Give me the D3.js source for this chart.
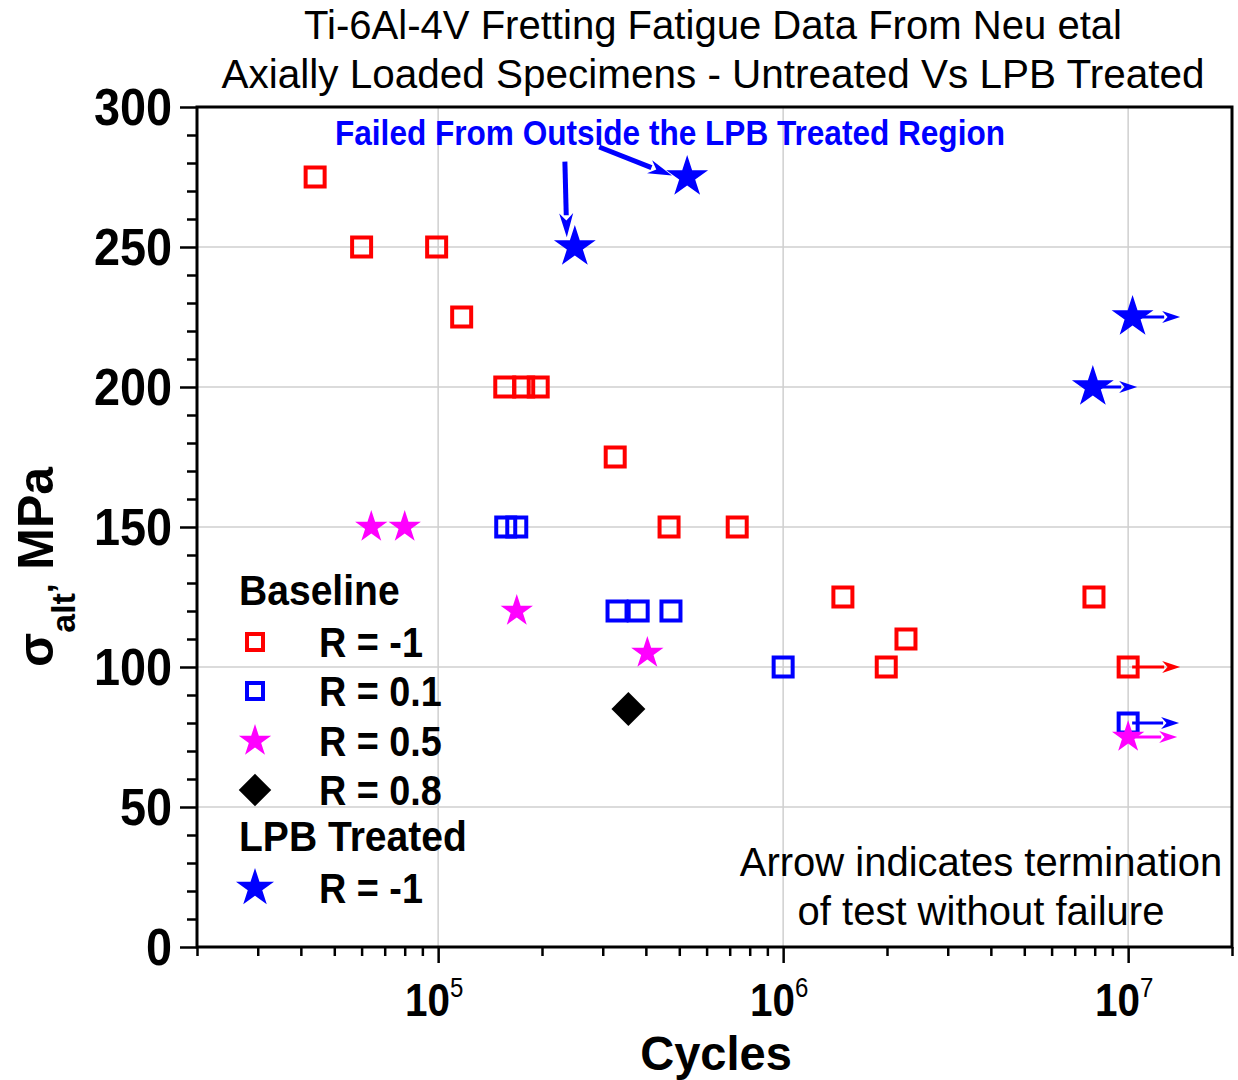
<!DOCTYPE html>
<html>
<head>
<meta charset="utf-8">
<script src="https://cdn.jsdelivr.net/npm/d3@7"></script>
<style>
  html, body { margin: 0; padding: 0; background: #fff; }
  svg { display: block; font-family: "Liberation Sans", Arial, sans-serif; }
</style>
</head>
<body>
<svg id="chart" width="1238" height="1080"></svg>
<script>
// ---------------- DATA ----------------
const titleLines = ["Ti-6Al-4V Fretting Fatigue Data From Neu etal",
                    "Axially Loaded Specimens - Untreated Vs LPB Treated"];
const xLabel = "Cycles";
const yTicksMajor = [0, 50, 100, 150, 200, 250, 300];
const xTicksMajor = [1e5, 1e6, 1e7];
const xTickExponents = ["5", "6", "7"];

// Baseline R = -1 (red open squares)
const r1Cycles = [44000, 60000, 99000, 117000, 156000, 177000, 195000, 326000, 467000, 736000, 1490000, 1990000, 2270000, 7960000, 10000000];
const r1Stress = [275, 250, 250, 225, 200, 200, 200, 175, 150, 150, 125, 100, 110, 125, 100];
// Baseline R = 0.1 (blue open squares)
const r01Cycles = [157000, 169000, 330000, 380000, 473000, 1000000, 10000000];
const r01Stress = [150, 150, 120, 120, 120, 100, 80];
// Baseline R = 0.5 (magenta stars)
const r05Cycles = [64000, 80000, 169000, 404000, 10000000];
const r05Stress = [150, 150, 120, 105, 75];
// Baseline R = 0.8 (black diamond)
const r08Cycles = [356000];
const r08Stress = [85];
// LPB treated R = -1 (blue stars)
const lpbCycles = [249000, 527000, 7900000, 10300000];
const lpbStress = [250, 275, 200, 225];

// Run-outs (arrow = test terminated without failure)
const runoutCycles = [10000000, 10000000, 10000000, 10300000, 7900000];
const runoutStress = [100, 80, 75, 225, 200];
const runoutTo     = [14150000, 14050000, 13870000, 14150000, 10620000];
const runoutColor  = ["#ff0000", "#0000ff", "#ff00ff", "#0000ff", "#0000ff"];

// Annotation arrows "Failed From Outside the LPB Treated Region"
const noteFromCycles = [233000, 293000];
const noteFromStress = [280.5, 285.7];
const noteToCycles   = [236000, 476000];
const noteToStress   = [253.5, 275.5];

const legendLabels = ["R = -1", "R = 0.1", "R = 0.5", "R = 0.8", "R = -1"];

// ---------------- LAYOUT ----------------
const svg = d3.select("#chart");
const L = 197, R = 1232, T = 107, B = 947;
const x = d3.scaleLog().domain([2e4, 2e7]).range([L, R]);
const y = d3.scaleLinear().domain([0, 300]).range([B, T]);

const RED = "#ff0000", BLUE = "#0000ff", MAG = "#ff00ff";

// gridlines
const grid = svg.append("g").attr("stroke", "#cfcfcf").attr("stroke-width", 1.5);
grid.selectAll("line.gx").data(xTicksMajor).join("line")
  .attr("x1", d => x(d)).attr("x2", d => x(d)).attr("y1", T).attr("y2", B);
grid.selectAll("line.gy").data(yTicksMajor.filter(d => d > 0 && d < 300)).join("line")
  .attr("x1", L).attr("x2", R).attr("y1", d => y(d)).attr("y2", d => y(d));

// axes ticks
const xMinor = [];
for (let e = 4; e <= 7; e++) for (let k = 1; k <= 9; k++) {
  const v = k * Math.pow(10, e);
  if (v >= 2e4 && v <= 2e7 && k !== 1) xMinor.push(v);
}
const yMinor = d3.range(0, 301, 10).filter(d => d % 50 !== 0);

function styleAxis(g) {
  g.select(".domain").remove();
  g.selectAll(".tick line").attr("stroke", "#000").attr("stroke-width", 2.5);
  g.selectAll(".tick text").remove();
}
svg.append("g").attr("transform", `translate(0,${B})`)
  .call(d3.axisBottom(x).tickValues(xMinor).tickSize(9).tickFormat("")).call(styleAxis);
svg.append("g").attr("transform", `translate(0,${B})`)
  .call(d3.axisBottom(x).tickValues(xTicksMajor).tickSize(16).tickFormat("")).call(styleAxis);
svg.append("g").attr("transform", `translate(${L},0)`)
  .call(d3.axisLeft(y).tickValues(yMinor).tickSize(10).tickFormat("")).call(styleAxis);
svg.append("g").attr("transform", `translate(${L},0)`)
  .call(d3.axisLeft(y).tickValues(yTicksMajor).tickSize(17).tickFormat("")).call(styleAxis);

// frame
svg.append("rect").attr("x", L).attr("y", T).attr("width", R - L).attr("height", B - T)
  .attr("fill", "none").attr("stroke", "#000").attr("stroke-width", 3);

// y tick labels
svg.append("g").selectAll("text").data(yTicksMajor).join("text")
  .attr("transform", d => `translate(172,${y(d) + 18}) scale(0.9,1)`)
  .attr("text-anchor", "end").attr("font-size", 52).attr("font-weight", "bold")
  .text(d => d);

// x tick labels
const xl = svg.append("g").selectAll("g").data(xTicksMajor).join("g")
  .attr("transform", d => `translate(${x(d) - 4},1016) scale(0.86,1)`);
const xt = xl.append("text").attr("text-anchor", "middle").attr("font-weight", "bold");
xt.append("tspan").attr("font-size", 47).text("10");
xt.append("tspan").attr("font-size", 28).attr("font-weight", "normal").attr("dy", -19)
  .text((d, i) => xTickExponents[i]);

// axis titles
svg.append("text").attr("transform", "translate(716,1070) scale(0.98,1)")
  .attr("text-anchor", "middle").attr("font-size", 48).attr("font-weight", "bold").text(xLabel);

const yl = svg.append("text").attr("transform", "translate(53,667) rotate(-90)")
  .attr("font-weight", "bold");
yl.append("tspan").attr("font-size", 50).text("σ");
yl.append("tspan").attr("font-size", 34).attr("dy", 22).text("alt");
yl.append("tspan").attr("font-size", 34).attr("dy", -22).text(",");
yl.append("tspan").attr("font-size", 50).text(" MPa");

// title
svg.append("g").selectAll("text").data(titleLines).join("text")
  .attr("x", 713).attr("y", (d, i) => 39 + i * 49)
  .attr("text-anchor", "middle").attr("font-size", 40)
  .attr("textLength", (d, i) => i === 0 ? 818 : 983).attr("lengthAdjust", "spacingAndGlyphs")
  .text(d => d);

// ---------------- MARKERS ----------------
const starSize = r => r * r / 0.8908130915292852;
const sq = d3.symbol().type(d3.symbolSquare).size(19 * 19);
const starBig = d3.symbol().type(d3.symbolStar).size(starSize(22));
const starSmall = d3.symbol().type(d3.symbolStar).size(starSize(17));
const diam = d3.symbol().type(d3.symbolSquare).size(24 * 24);

function drawPts(cyc, str, path, fill, stroke, sw, rot) {
  svg.append("g").selectAll("path").data(cyc).join("path")
    .attr("d", path)
    .attr("transform", (d, i) => `translate(${x(d)},${y(str[i])})` + (rot ? " rotate(45)" : ""))
    .attr("fill", fill).attr("stroke", stroke).attr("stroke-width", sw);
}
drawPts(r1Cycles, r1Stress, sq, "none", RED, 4);
drawPts(r01Cycles, r01Stress, sq, "none", BLUE, 4);
drawPts(r05Cycles, r05Stress, starSmall, MAG, "none", 0);
drawPts(r08Cycles, r08Stress, diam, "#000", "none", 0, true);
drawPts(lpbCycles, lpbStress, starBig, BLUE, "none", 0);

// arrows
function arrow(x1, y1, x2, y2, color, w, hl, hw) {
  const dx = x2 - x1, dy = y2 - y1, len = Math.hypot(dx, dy);
  const ux = dx / len, uy = dy / len;
  const bx = x2 - ux * hl, by = y2 - uy * hl;
  svg.append("line").attr("x1", x1).attr("y1", y1).attr("x2", bx + ux * 2).attr("y2", by + uy * 2)
    .attr("stroke", color).attr("stroke-width", w);
  svg.append("path")
    .attr("d", `M${x2},${y2}L${bx - uy * hw},${by + ux * hw}L${bx + ux * hl * 0.3},${by + uy * hl * 0.3}L${bx + uy * hw},${by - ux * hw}Z`)
    .attr("fill", color);
}
runoutCycles.forEach((c, i) => {
  arrow(x(c) + 4, y(runoutStress[i]), x(runoutTo[i]), y(runoutStress[i]), runoutColor[i], 3, 18, 6);
});
noteFromCycles.forEach((c, i) => {
  arrow(x(c), y(noteFromStress[i]), x(noteToCycles[i]), y(noteToStress[i]), BLUE, 5, 24, 7);
});

// annotation text
svg.append("text").attr("x", 335).attr("y", 145).attr("font-size", 35).attr("font-weight", "bold")
  .attr("fill", BLUE).attr("textLength", 670).attr("lengthAdjust", "spacingAndGlyphs")
  .text("Failed From Outside the LPB Treated Region");

svg.append("g").selectAll("text").data(["Arrow indicates termination", "of test without failure"]).join("text")
  .attr("x", 981).attr("y", (d, i) => 876 + i * 49).attr("text-anchor", "middle")
  .attr("font-size", 40).text(d => d);

// ---------------- LEGEND ----------------
const lg = svg.append("g");
const legendY = [642, 691, 741, 790, 888];
const legendShapes = [
  {p: d3.symbol().type(d3.symbolSquare).size(16 * 16), fill: "none", stroke: RED, sw: 4},
  {p: d3.symbol().type(d3.symbolSquare).size(16 * 16), fill: "none", stroke: BLUE, sw: 4},
  {p: starSmall, fill: MAG, stroke: "none", sw: 0},
  {p: d3.symbol().type(d3.symbolSquare).size(23 * 23), fill: "#000", stroke: "none", sw: 0, rot: true},
  {p: d3.symbol().type(d3.symbolStar).size(starSize(20)), fill: BLUE, stroke: "none", sw: 0}
];
lg.selectAll("path").data(legendShapes).join("path")
  .attr("d", d => d.p())
  .attr("transform", (d, i) => `translate(255,${legendY[i]})` + (d.rot ? " rotate(45)" : ""))
  .attr("fill", d => d.fill).attr("stroke", d => d.stroke).attr("stroke-width", d => d.sw);
lg.selectAll("text.lab").data(legendLabels).join("text")
  .attr("transform", (d, i) => `translate(319,${legendY[i] + 15}) scale(0.9,1)`)
  .attr("font-size", 42).attr("font-weight", "bold").text(d => d);
lg.append("text").attr("transform", "translate(239,605) scale(0.93,1)")
  .attr("font-size", 42).attr("font-weight", "bold").text("Baseline");
lg.append("text").attr("transform", "translate(239,851) scale(0.93,1)")
  .attr("font-size", 42).attr("font-weight", "bold").text("LPB Treated");
</script>
</body>
</html>
